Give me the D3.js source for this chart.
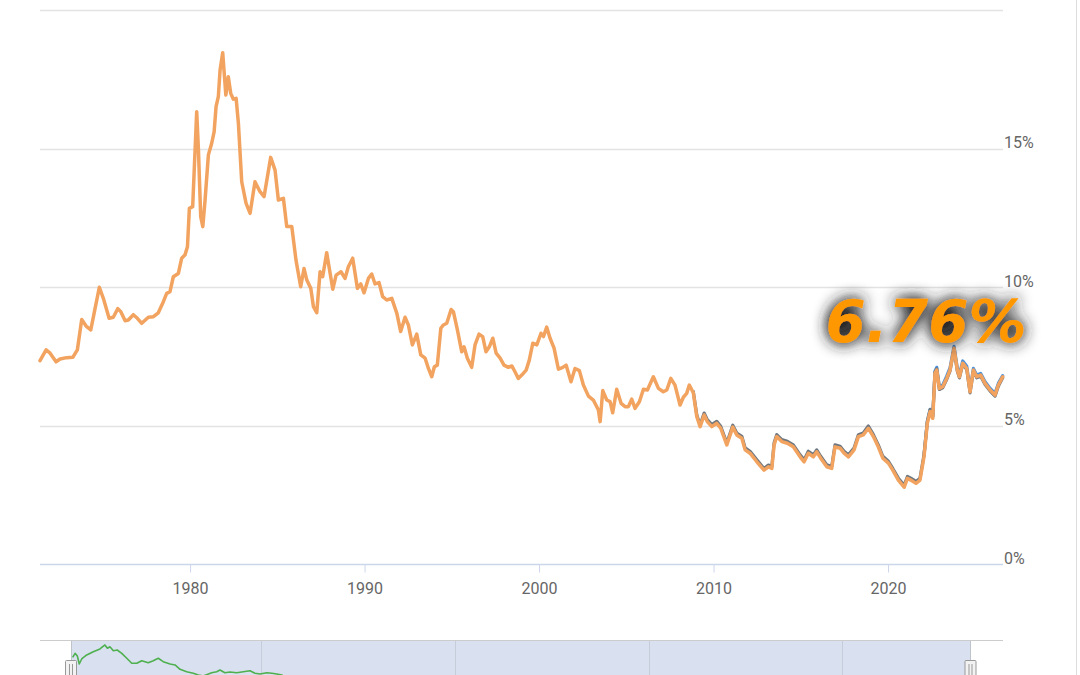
<!DOCTYPE html>
<html>
<head>
<meta charset="utf-8">
<script src="https://cdn.jsdelivr.net/npm/d3@7"></script>
<style>
  html, body { margin: 0; padding: 0; background: #fff; }
  svg { display: block; font-family: Roboto, "Noto Sans", sans-serif; }
</style>
</head>
<body>
<svg id="chart" width="1080" height="675"></svg>
<script>
// ---------------------------------------------------------------- //
// Data (decimal years, % rate)

var years = [
  1971.40,1971.75,1971.98,1972.32,1972.55,1972.93,1973.28,1973.54,1973.79,1974.04,
  1974.31,1974.50,1974.80,1975.03,1975.36,1975.60,1975.86,1976.03,1976.28,1976.46,
  1976.75,1976.98,1977.23,1977.61,1977.90,1978.18,1978.47,1978.66,1978.85,1979.04,
  1979.33,1979.52,1979.71,1979.85,1979.96,1980.15,1980.38,1980.48,1980.61,1980.73,
  1980.86,1981.05,1981.24,1981.38,1981.49,1981.62,1981.72,1981.87,1982.05,1982.19,
  1982.33,1982.48,1982.64,1982.77,1982.96,1983.21,1983.44,1983.72,1984.01,1984.24,
  1984.62,1984.87,1985.06,1985.35,1985.54,1985.83,1986.07,1986.34,1986.53,1986.69,
  1986.92,1987.07,1987.26,1987.45,1987.60,1987.83,1987.98,1988.18,1988.37,1988.65,
  1988.88,1989.07,1989.32,1989.59,1989.78,1989.97,1990.22,1990.41,1990.60,1990.83,
  1991.04,1991.27,1991.56,1991.85,1992.07,1992.32,1992.51,1992.74,1992.99,1993.22,
  1993.47,1993.66,1993.85,1994.00,1994.17,1994.37,1994.52,1994.71,1994.96,1995.09,
  1995.32,1995.57,1995.70,1995.89,1996.14,1996.33,1996.56,1996.77,1996.96,1997.15,
  1997.35,1997.54,1997.77,1997.99,1998.24,1998.44,1998.62,1998.81,1999.01,1999.26,
  1999.44,1999.64,1999.87,2000.11,2000.25,2000.44,2000.63,2000.86,2001.11,2001.36,
  2001.55,2001.83,2002.06,2002.31,2002.54,2002.83,2003.11,2003.40,2003.50,2003.65,
  2003.88,2004.07,2004.22,2004.45,2004.70,2004.93,2005.12,2005.31,2005.50,2005.75,
  2005.98,2006.21,2006.55,2006.84,2007.12,2007.32,2007.55,2007.79,2008.08,2008.27,
  2008.46,2008.61,
  2008.84,2009.04,2009.23,2009.46,2009.64,2009.90,2010.18,2010.41,2010.76,2011.10,
  2011.33,2011.62,2011.81,2012.09,2012.48,2012.89,2013.14,2013.34,2013.47,2013.62,
  2013.91,2014.23,2014.57,2014.96,2015.19,2015.43,2015.72,2015.91,2016.14,2016.49,
  2016.77,2016.96,2017.25,2017.48,2017.73,2018.05,2018.30,2018.58,2018.87,2019.16,
  2019.44,2019.70,2020.02,2020.27,2020.59,2020.92,2021.11,2021.30,2021.60,2021.83,
  2022.06,2022.25,2022.41,2022.56,2022.69,2022.79,2022.94,2023.13,2023.36,2023.55,
  2023.78,2023.97,2024.09,2024.28,2024.51,2024.70,2024.89,2025.08,2025.31,2025.56,
  2025.85,2026.13,2026.32,2026.57
];

// main series (orange)
var rate = [
  7.34,7.73,7.61,7.30,7.40,7.45,7.46,7.73,8.83,8.59,
  8.45,9.05,9.99,9.59,8.87,8.91,9.22,9.11,8.78,8.81,
  9.00,8.87,8.69,8.91,8.93,9.07,9.47,9.77,9.83,10.37,
  10.49,11.04,11.16,11.45,12.84,12.90,16.33,14.95,12.54,12.18,
  13.14,14.77,15.19,15.61,16.51,16.87,17.83,18.46,16.93,17.59,
  16.99,16.78,16.81,15.91,13.80,13.02,12.66,13.80,13.44,13.26,
  14.68,14.22,13.14,13.20,12.18,12.18,10.97,10.01,10.67,10.25,
  9.95,9.29,9.07,10.55,10.37,11.24,10.67,9.92,10.43,10.55,
  10.31,10.73,11.04,9.95,10.11,9.79,10.31,10.47,10.11,10.16,
  9.65,9.53,9.59,9.05,8.39,8.91,8.63,7.91,8.30,7.55,
  7.43,7.06,6.76,7.12,7.18,8.51,8.63,8.69,9.19,9.11,
  8.45,7.66,7.84,7.43,7.10,7.91,8.30,8.21,7.66,7.84,
  8.15,7.61,7.43,7.18,7.10,7.15,6.94,6.70,6.82,7.00,
  7.36,7.97,7.91,8.33,8.21,8.55,8.15,7.79,7.03,7.10,
  7.18,6.58,7.06,6.98,6.46,6.06,5.92,5.56,5.14,6.26,
  5.92,5.86,5.46,6.31,5.80,5.68,5.68,5.95,5.62,5.86,
  6.31,6.28,6.76,6.34,6.22,6.28,6.70,6.46,5.74,6.02,
  6.16,6.46,
  6.18,5.32,4.96,5.38,5.14,4.96,5.08,4.90,4.30,4.94,
  4.66,4.54,4.12,4.00,3.69,3.39,3.51,3.45,4.30,4.60,
  4.42,4.36,4.23,3.87,3.69,4.00,3.87,4.05,3.82,3.51,
  3.45,4.23,4.18,4.00,3.87,4.12,4.60,4.66,4.90,4.60,
  4.23,3.82,3.64,3.39,3.03,2.77,3.09,3.03,2.91,3.03,
  3.87,5.08,5.50,5.26,6.88,7.00,6.34,6.40,6.70,7.00,
  7.79,7.00,6.76,7.25,7.06,6.22,7.00,6.76,6.82,6.52,
  6.28,6.10,6.46,6.76
];

// second series (gray), visible from late 2008
var grayYears = years.slice(years.indexOf(2008.84));
var grayRate = [
  6.22,5.38,5.02,5.45,5.21,5.03,5.15,4.97,4.37,5.01,
  4.73,4.61,4.19,4.07,3.76,3.45,3.57,3.52,4.38,4.67,
  4.49,4.43,4.30,3.94,3.76,4.07,3.94,4.12,3.89,3.58,
  3.52,4.30,4.25,4.07,3.94,4.19,4.67,4.73,4.98,4.67,
  4.30,3.89,3.71,3.45,3.10,2.84,3.16,3.10,2.98,3.10,
  3.94,5.15,5.57,5.33,6.92,7.04,6.30,6.36,6.66,6.96,
  7.75,6.96,6.72,7.21,7.02,6.18,6.96,6.72,6.78,6.48,
  6.24,6.06,6.42,6.72
];

// third series (blue), visible from 2022
var blueYears = years.slice(years.indexOf(2022.06));
var blueRate = [
  3.92,5.14,5.58,5.32,6.96,7.10,6.40,6.46,6.78,7.08,
  7.86,7.08,6.84,7.33,7.14,6.28,7.06,6.82,6.88,6.58,
  6.34,6.16,6.52,6.80
];

var xTicks = [1980, 1990, 2000, 2010, 2020];
var yTicks = [0, 5, 10, 15, 20];
var yLabelTicks = [0, 5, 10, 15];

// navigator series (green) and navigator grid
var navYears = [
  1971.34,1971.49,1971.63,1971.75,1971.90,1972.21,1972.62,1973.03,1973.34,1973.49,
  1973.65,1973.86,1974.10,1974.38,1974.69,1975.00,1975.31,1975.62,1976.02,1976.33,
  1976.64,1976.95,1977.37,1977.68,1977.99,1978.40,1978.81,1979.12,1979.43,1979.95,
  1980.26,1980.46,1980.77,1981.08,1981.50,1981.91,1982.32,1982.63,1982.94,1983.36,
  1983.67,1983.98,1984.29,1984.80,1985.40,1986.00
];
var navValue = [
  6.98,7.72,7.22,5.74,6.67,7.41,8.02,8.52,9.26,8.65,
  8.94,8.20,8.33,7.72,6.80,5.87,5.87,6.35,5.98,6.35,
  6.80,6.17,5.74,5.56,4.76,4.31,4.02,3.70,3.52,4.13,
  4.31,4.63,4.13,4.26,4.13,4.31,4.50,4.02,3.89,4.13,
  4.02,3.89,3.70,2.78,1.60,0.80
];
var navTicks = [1983, 1995, 2007, 2019];

// ---------------------------------------------------------------- //
// Layout

var svg = d3.select('#chart');
var plot = { left: 40, right: 1003, top: 10, bottom: 564 };

var x = d3.scaleLinear().domain([years[0], years[years.length - 1]]).range([plot.left, 1002.7]);
var y = d3.scaleLinear().domain([0, 20]).range([plot.bottom, plot.top]);

// glow filter for the big value label
var defs = svg.append('defs');
var f = defs.append('filter').attr('id', 'glow')
  .attr('x', '-30%').attr('y', '-60%').attr('width', '160%').attr('height', '220%');
f.append('feGaussianBlur').attr('in', 'SourceAlpha').attr('stdDeviation', 8).attr('result', 'blur');
f.append('feFlood').attr('flood-color', '#2a2a2a').attr('flood-opacity', 1);
f.append('feComposite').attr('in2', 'blur').attr('operator', 'in').attr('result', 'shadow');
var ct = f.append('feComponentTransfer').attr('in', 'shadow').attr('result', 'shadow2');
ct.append('feFuncA').attr('type', 'linear').attr('slope', 1.6);
var merge = f.append('feMerge');
merge.append('feMergeNode').attr('in', 'shadow2');
merge.append('feMergeNode').attr('in', 'SourceGraphic');

// grid lines
svg.append('g').selectAll('line').data(yTicks.filter(function(d){ return d > 0; })).enter()
  .append('line')
  .attr('x1', plot.left).attr('x2', plot.right)
  .attr('y1', function(d){ return Math.round(y(d)) + 0.5; })
  .attr('y2', function(d){ return Math.round(y(d)) + 0.5; })
  .attr('stroke', '#e3e3e3').attr('stroke-width', 1.3);

// x axis
var xAxis = svg.append('g').attr('transform', 'translate(0,' + (plot.bottom + 0.5) + ')')
  .call(d3.axisBottom(x).tickValues(xTicks).tickFormat(d3.format('d')).tickSize(8).tickPadding(10).tickSizeOuter(0));
xAxis.select('.domain').attr('d', 'M' + plot.left + ',0H' + plot.right).attr('stroke', '#ccd6eb').attr('stroke-width', 1.3);
xAxis.selectAll('.tick line').attr('stroke', '#ccd6eb');
xAxis.selectAll('.tick text').attr('fill', '#666').style('font-size', '16px').style('font-family', 'Roboto, sans-serif');

// y labels (right side, sitting on the grid line)
svg.append('g').selectAll('text').data(yLabelTicks).enter()
  .append('text')
  .attr('x', 1004).attr('y', function(d){ return y(d) - 0.5; })
  .attr('fill', '#666').style('font-size', '16px')
  .text(function(d){ return d + '%'; });

// series
var line = d3.line()
  .x(function(d){ return x(d[0]); })
  .y(function(d){ return y(d[1]); });

var seriesList = [
  { data: d3.zip(blueYears, blueRate), color: '#4a8fd8', width: 3.2 },
  { data: d3.zip(grayYears, grayRate), color: '#6e7780', width: 3.2 },
  { data: d3.zip(years, rate), color: '#f2a35f', width: 3.5 }
];
seriesList.forEach(function(s){
  svg.append('path').attr('d', line(s.data))
    .attr('fill', 'none').attr('stroke', s.color).attr('stroke-width', s.width)
    .attr('stroke-linejoin', 'round').attr('stroke-linecap', 'round');
});

// big last-value label
svg.append('text')
  .attr('x', 926).attr('y', 342)
  .attr('text-anchor', 'middle')
  .attr('filter', 'url(#glow)')
  .style('font-family', '"DejaVu Sans", Verdana, sans-serif')
  .style('font-weight', 'bold').style('font-style', 'italic')
  .style('font-size', '58px')
  .attr('fill', '#ff9800')
  .text(d3.format('.2f')(rate[rate.length - 1]) + '%');

// ---------------------------------------------------------------- //
// Navigator

var nx = d3.scaleLinear().domain([1971.3, 2026.9]).range([72, 970]);
var ny = d3.scaleLinear().domain([0, 10]).range([695, 641]);
var nav = svg.append('g');

nav.append('rect').attr('x', 71.5).attr('y', 641).attr('width', 899).attr('height', 40)
  .attr('fill', 'rgba(102,133,194,0.25)');
nav.selectAll('.navgrid').data(navTicks).enter().append('line')
  .attr('x1', function(d){ return Math.round(nx(d)) + 0.5; })
  .attr('x2', function(d){ return Math.round(nx(d)) + 0.5; })
  .attr('y1', 641).attr('y2', 680)
  .attr('stroke', '#c6ccd8').attr('stroke-width', 1);
nav.append('line').attr('x1', plot.left).attr('x2', plot.right).attr('y1', 640.5).attr('y2', 640.5)
  .attr('stroke', '#cccccc').attr('stroke-width', 1.2);
[71.5, 970.5].forEach(function(hx){
  nav.append('line').attr('x1', hx).attr('x2', hx).attr('y1', 641).attr('y2', 680)
    .attr('stroke', '#bfc3ca').attr('stroke-width', 1);
});

var navLine = d3.line()
  .x(function(d){ return nx(d[0]); })
  .y(function(d){ return ny(d[1]); });
nav.append('path').attr('d', navLine(d3.zip(navYears, navValue)))
  .attr('fill', 'none').attr('stroke', '#4fb04f').attr('stroke-width', 1.6)
  .attr('stroke-linejoin', 'round');

// handles
[71, 970.5].forEach(function(hx){
  var h = nav.append('g').attr('transform', 'translate(' + hx + ',660)');
  h.append('rect').attr('x', -5.5).attr('y', 0.5).attr('width', 11).attr('height', 20).attr('rx', 1)
    .attr('fill', '#f2f2f2').attr('stroke', '#999').attr('stroke-width', 1);
  h.append('line').attr('x1', -1.5).attr('x2', -1.5).attr('y1', 4).attr('y2', 20).attr('stroke', '#999');
  h.append('line').attr('x1', 1.5).attr('x2', 1.5).attr('y1', 4).attr('y2', 20).attr('stroke', '#999');
});

// right frame edge
svg.append('line').attr('x1', 1076.5).attr('x2', 1076.5).attr('y1', 0).attr('y2', 675)
  .attr('stroke', '#dedede').attr('stroke-width', 1);
</script>
</body>
</html>
